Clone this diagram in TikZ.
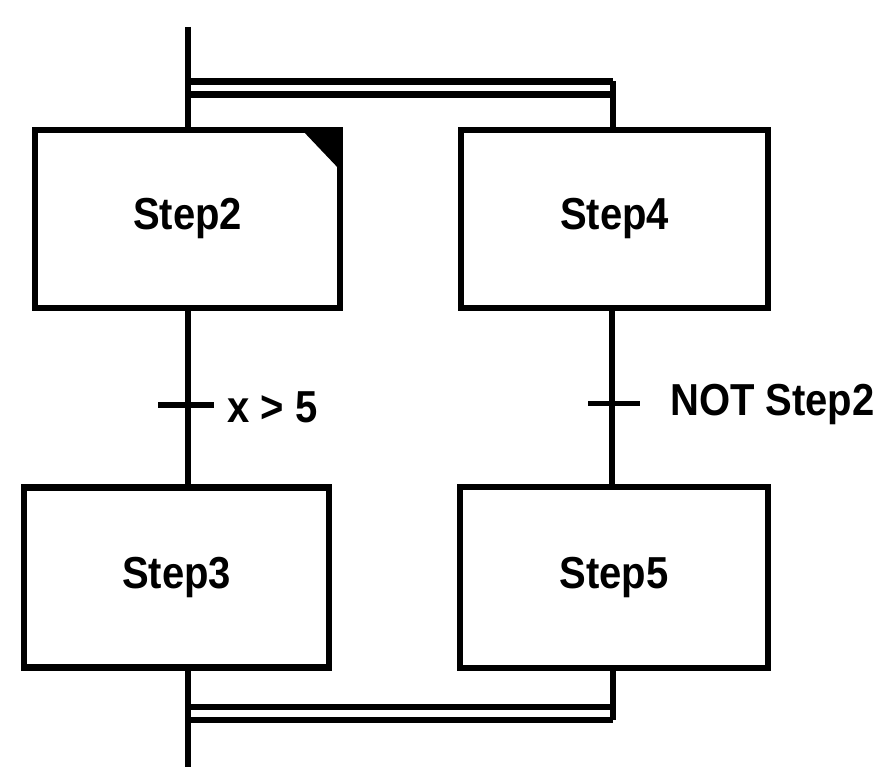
\documentclass[tikz,border=0pt]{standalone}
\usepackage{fontspec}
\setmainfont{Liberation Sans}
\begin{document}
\begin{tikzpicture}[x=1pt,y=-1pt,
  stepbox/.style={draw=black,line width=6.5pt,minimum width=#1,minimum height=178pt,inner sep=0pt,font=\fontsize{40}{40}\bfseries\selectfont},
  stepbox/.default=305pt,
  flow/.style={line width=6.5pt},
  bar/.style={line width=6pt},
  lbl/.style={anchor=west,inner sep=0pt,font=\fontsize{40}{40}\bfseries\selectfont}]
\useasboundingbox (0,0) rectangle (880,767);
% steps
\node[stepbox=305pt] (s2) at (187.5,219) {\scalebox{1}[1.12]{Step2}};
\node[stepbox=307pt] (s4) at (614.5,219) {\scalebox{1}[1.12]{Step4}};
\node[stepbox=305pt,minimum height=180pt] (s3) at (176.5,577.5) {\scalebox{1}[1.12]{Step3}};
\node[stepbox=308pt,minimum height=181pt] (s5) at (614,577.5) {\scalebox{1}[1.12]{Step5}};
% initial-step marker
\fill (302,130) -- (340,130) -- (340,170) -- cycle;
% coordinates
\coordinate (top) at (188,27);
\coordinate (tl1) at (188,81.5);
\coordinate (tr1) at (613,81.5);
\coordinate (tl2) at (188,94.5);
\coordinate (tr2) at (613,94.5);
\coordinate (bl1) at (188,707);
\coordinate (br1) at (613,707);
\coordinate (bl2) at (188,720);
\coordinate (br2) at (613,720);
\coordinate (bot) at (188,767);
% incoming and outgoing line
\draw[flow] (top) -- (s2.north -| top);
\draw[flow] (s3.south -| bot) -- (bot);
% parallel divergence
\draw[flow] (tl1) -- (tr1);
\draw[flow] (tl2) -- (tr2);
\draw[flow] (tr1) -- (s4.north -| tr1);
% parallel convergence
\draw[flow] (bl1) -- (br1);
\draw[flow] (bl2) -- (br2);
\draw[flow] (s5.south -| br1) -- (br2);
% links between steps
\draw[flow] (s2.south -| 188,0) -- (s3.north -| 188,0);
\draw[flow] (s4.south -| 612,0) -- (s5.north -| 612,0);
% transitions
\coordinate (t1a) at (158,405);
\coordinate (t1b) at (214,405);
\coordinate (t2a) at (588,403);
\coordinate (t2b) at (640,403);
\draw[bar] (t1a) -- (t1b);
\draw[bar,line width=5pt] (t2a) -- (t2b);
\node[lbl] (c1) at (227,407) {\scalebox{1}[1.12]{x > 5}};
\node[lbl] (c2) at (670,405) {\scalebox{1}[1.12]{NOT Step2}};
\end{tikzpicture}
\end{document}
